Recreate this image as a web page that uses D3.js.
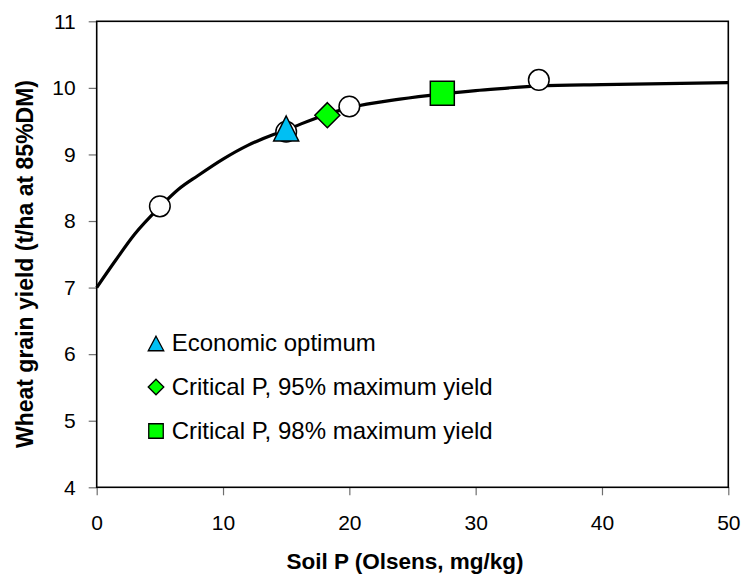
<!DOCTYPE html>
<html>
<head>
<meta charset="utf-8">
<script src="https://cdn.jsdelivr.net/npm/d3@7"></script>
<style>
  html, body { margin: 0; padding: 0; background: #fff; }
  svg { display: block; font-family: "Liberation Sans", Arial, sans-serif; }
</style>
</head>
<body>
<svg id="chart" width="742" height="576"></svg>
<script>
// Fitted yield response curve (soil P, grain yield)
const curveP = [0, 1.5, 3, 5, 6.5, 8, 10, 12, 14, 15, 18, 20, 24, 27.4, 30, 32, 35, 40, 45, 50];
const curveYield = [7.0, 7.41, 7.80, 8.21, 8.48, 8.68, 8.93, 9.14, 9.30, 9.37, 9.59, 9.70, 9.83, 9.91, 9.96, 9.99, 10.03, 10.05, 10.065, 10.08];

// Measured trial means
const obsP = [5, 15, 20, 35];
const obsYield = [8.22, 9.34, 9.72, 10.12];

// Key points on the curve
const econP = [15.0];
const econYield = [9.39];
const crit95P = [18.26];
const crit95Yield = [9.59];
const crit98P = [27.36];
const crit98Yield = [9.92];

const legendLabels = ["Economic optimum", "Critical P, 95% maximum yield", "Critical P, 98% maximum yield"];

const xTicks = [0, 10, 20, 30, 40, 50];
const yTicks = [4, 5, 6, 7, 8, 9, 10, 11];

const margin = { top: 21.3, right: 13.7, bottom: 88.7, left: 96.7 };
const W = 742, H = 576;
const iw = W - margin.left - margin.right;
const ih = H - margin.top - margin.bottom;

const svg = d3.select("#chart");
const g = svg.append("g").attr("transform", `translate(${margin.left},${margin.top})`);

const x = d3.scaleLinear().domain([0, 50]).range([0, iw]);
const y = d3.scaleLinear().domain([4, 11]).range([ih, 0]);

// Axes
const yAxis = g.append("g")
  .call(d3.axisLeft(y).tickValues(yTicks).tickSize(8).tickSizeOuter(0).tickPadding(13).tickFormat(d3.format("d")));
const xAxis = g.append("g").attr("transform", `translate(0,${ih})`)
  .call(d3.axisBottom(x).tickValues(xTicks).tickSize(8).tickSizeOuter(0).tickPadding(20).tickFormat(d3.format("d")));

[yAxis, xAxis].forEach(a => {
  a.select(".domain").remove();
  a.selectAll(".tick line").attr("stroke", "#6e6e6e").attr("stroke-width", 1.2);
  a.selectAll(".tick text").attr("font-size", 21).attr("fill", "#000")
    .attr("font-family", "'Liberation Sans', Arial, sans-serif");
});

// Plot frame
g.append("rect").attr("x", 0).attr("y", 0).attr("width", iw).attr("height", ih)
  .attr("fill", "none").attr("stroke", "#000").attr("stroke-width", 1.6);

// Response curve
const line = d3.line().x((d, i) => x(curveP[i])).y(d => y(d)).curve(d3.curveMonotoneX);
g.append("path").datum(curveYield).attr("d", line)
  .attr("fill", "none").attr("stroke", "#000").attr("stroke-width", 3.2)
  .attr("stroke-linejoin", "round");

// Marker shapes (centred on their bounding box)
const trianglePath = (w, h) => `M0,${-h / 2}L${w / 2},${h / 2}L${-w / 2},${h / 2}Z`;
const diamondPath = r => `M0,${-r}L${r},0L0,${r}L${-r},0Z`;
const squarePath = s => `M${-s / 2},${-s / 2}h${s}v${s}h${-s}Z`;

// Critical P 95%
g.selectAll(".crit95").data(crit95Yield).enter().append("path")
  .attr("transform", (d, i) => `translate(${x(crit95P[i])},${y(d)})`)
  .attr("d", diamondPath(12.5))
  .attr("fill", "#00ff00").attr("stroke", "#000").attr("stroke-width", 1.5);

// Observations
g.selectAll(".obs").data(obsYield).enter().append("circle")
  .attr("cx", (d, i) => x(obsP[i])).attr("cy", d => y(d)).attr("r", 10.3)
  .attr("fill", "#fff").attr("stroke", "#000").attr("stroke-width", 1.5);

// Economic optimum
g.selectAll(".econ").data(econYield).enter().append("path")
  .attr("transform", (d, i) => `translate(${x(econP[i])},${y(d)})`)
  .attr("d", trianglePath(25, 25))
  .attr("fill", "#00bff3").attr("stroke", "#000").attr("stroke-width", 1.5);

// Critical P 98%
g.selectAll(".crit98").data(crit98Yield).enter().append("path")
  .attr("transform", (d, i) => `translate(${x(crit98P[i])},${y(d)})`)
  .attr("d", squarePath(24))
  .attr("fill", "#00ff00").attr("stroke", "#000").attr("stroke-width", 1.5);

// Legend
const legend = svg.append("g").attr("transform", "translate(156,0)");
const legendRows = [
  { y: 343.5, d: trianglePath(15.5, 14.5), fill: "#00bff3" },
  { y: 387, d: diamondPath(7.8), fill: "#00ff00" },
  { y: 431, d: squarePath(14.5), fill: "#00ff00" }
];
legendRows.forEach((r, i) => {
  legend.append("path").attr("transform", `translate(0,${r.y})`).attr("d", r.d)
    .attr("fill", r.fill).attr("stroke", "#000").attr("stroke-width", 1.3);
  legend.append("text").attr("x", 15.7).attr("y", r.y + 7.5)
    .attr("font-size", 24).attr("fill", "#000").text(legendLabels[i]);
});

// Axis titles
svg.append("text").attr("transform", "translate(33,264) rotate(-90)")
  .attr("text-anchor", "middle").attr("font-size", 23).attr("font-weight", "bold")
  .text("Wheat grain yield (t/ha at 85%DM)");
svg.append("text").attr("x", 405).attr("y", 569)
  .attr("text-anchor", "middle").attr("font-size", 22.5).attr("font-weight", "bold")
  .text("Soil P (Olsens, mg/kg)");
</script>
</body>
</html>
